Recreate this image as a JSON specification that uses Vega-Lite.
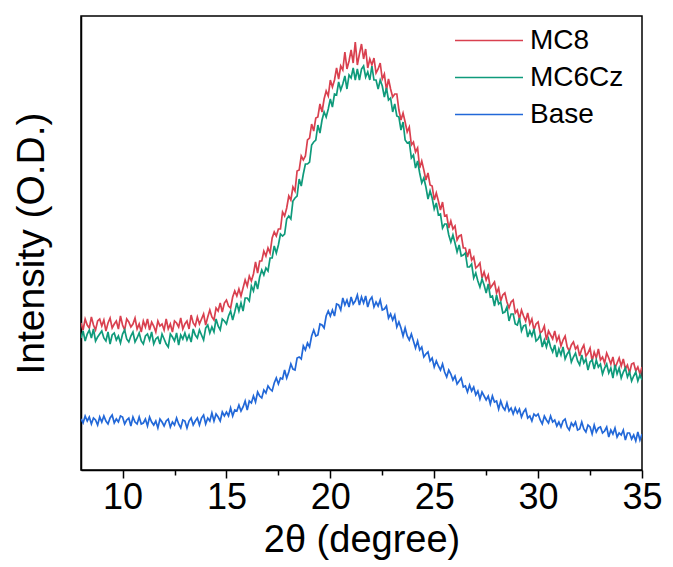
{
  "$schema": "https://vega.github.io/schema/vega-lite/v6.json",
  "width": 561,
  "height": 454,
  "autosize": "none",
  "padding": {"left": 81, "top": 16, "right": 31, "bottom": 97},
  "background": "white",
  "config": {
    "view": {"stroke": "black", "strokeWidth": 1.5},
    "font": "Liberation Sans"
  },
  "datasets": {"xrd": [
{"x":8.0,"MC8":147,"MC6Cz":132,"Base":51},{"x":8.1,"MC8":140,"MC6Cz":139,"Base":47},{"x":8.2,"MC8":151,"MC6Cz":129,"Base":54},{"x":8.3,"MC8":145,"MC6Cz":136,"Base":49},{"x":8.4,"MC8":142,"MC6Cz":140,"Base":53},{"x":8.5,"MC8":153,"MC6Cz":132,"Base":46},{"x":8.6,"MC8":145,"MC6Cz":141,"Base":52},{"x":8.7,"MC8":140,"MC6Cz":129,"Base":50},{"x":8.8,"MC8":149,"MC6Cz":133,"Base":45},{"x":8.9,"MC8":151,"MC6Cz":136,"Base":53},
{"x":9.0,"MC8":144,"MC6Cz":139,"Base":48},{"x":9.1,"MC8":150,"MC6Cz":132,"Base":54},{"x":9.2,"MC8":139,"MC6Cz":129,"Base":49},{"x":9.3,"MC8":147,"MC6Cz":138,"Base":46},{"x":9.4,"MC8":152,"MC6Cz":126,"Base":52},{"x":9.5,"MC8":142,"MC6Cz":135,"Base":55},{"x":9.6,"MC8":146,"MC6Cz":137,"Base":47},{"x":9.7,"MC8":149,"MC6Cz":130,"Base":51},{"x":9.8,"MC8":141,"MC6Cz":134,"Base":48},{"x":9.9,"MC8":154,"MC6Cz":127,"Base":54},
{"x":10.0,"MC8":145,"MC6Cz":136,"Base":53},{"x":10.1,"MC8":140,"MC6Cz":140,"Base":46},{"x":10.2,"MC8":151,"MC6Cz":131,"Base":50},{"x":10.3,"MC8":148,"MC6Cz":128,"Base":52},{"x":10.4,"MC8":143,"MC6Cz":134,"Base":44},{"x":10.5,"MC8":146,"MC6Cz":138,"Base":53},{"x":10.6,"MC8":152,"MC6Cz":128,"Base":48},{"x":10.7,"MC8":141,"MC6Cz":132,"Base":46},{"x":10.8,"MC8":146,"MC6Cz":137,"Base":53},{"x":10.9,"MC8":138,"MC6Cz":129,"Base":46},
{"x":11.0,"MC8":149,"MC6Cz":126,"Base":47},{"x":11.1,"MC8":143,"MC6Cz":134,"Base":51},{"x":11.2,"MC8":151,"MC6Cz":136,"Base":44},{"x":11.3,"MC8":140,"MC6Cz":130,"Base":53},{"x":11.4,"MC8":148,"MC6Cz":138,"Base":48},{"x":11.5,"MC8":144,"MC6Cz":126,"Base":45},{"x":11.6,"MC8":138,"MC6Cz":131,"Base":49},{"x":11.7,"MC8":149,"MC6Cz":133,"Base":42},{"x":11.8,"MC8":144,"MC6Cz":126,"Base":51},{"x":11.9,"MC8":146,"MC6Cz":136,"Base":48},
{"x":12.0,"MC8":140,"MC6Cz":131,"Base":44},{"x":12.1,"MC8":151,"MC6Cz":126,"Base":49},{"x":12.2,"MC8":141,"MC6Cz":123,"Base":51},{"x":12.3,"MC8":146,"MC6Cz":136,"Base":43},{"x":12.4,"MC8":138,"MC6Cz":133,"Base":48},{"x":12.5,"MC8":149,"MC6Cz":129,"Base":45},{"x":12.6,"MC8":147,"MC6Cz":137,"Base":52},{"x":12.7,"MC8":143,"MC6Cz":125,"Base":46},{"x":12.8,"MC8":152,"MC6Cz":135,"Base":42},{"x":12.9,"MC8":141,"MC6Cz":131,"Base":50},
{"x":13.0,"MC8":146,"MC6Cz":137,"Base":49},{"x":13.1,"MC8":149,"MC6Cz":130,"Base":42},{"x":13.2,"MC8":141,"MC6Cz":135,"Base":49},{"x":13.3,"MC8":155,"MC6Cz":128,"Base":52},{"x":13.4,"MC8":147,"MC6Cz":141,"Base":45},{"x":13.5,"MC8":144,"MC6Cz":135,"Base":49},{"x":13.6,"MC8":153,"MC6Cz":132,"Base":52},{"x":13.7,"MC8":146,"MC6Cz":140,"Base":45},{"x":13.8,"MC8":151,"MC6Cz":135,"Base":52},{"x":13.9,"MC8":156,"MC6Cz":130,"Base":55},
{"x":14.0,"MC8":145,"MC6Cz":142,"Base":46},{"x":14.1,"MC8":153,"MC6Cz":145,"Base":52},{"x":14.2,"MC8":160,"MC6Cz":137,"Base":49},{"x":14.3,"MC8":153,"MC6Cz":143,"Base":57},{"x":14.4,"MC8":150,"MC6Cz":138,"Base":49},{"x":14.5,"MC8":162,"MC6Cz":151,"Base":56},{"x":14.6,"MC8":159,"MC6Cz":144,"Base":53},{"x":14.7,"MC8":167,"MC6Cz":140,"Base":49},{"x":14.8,"MC8":158,"MC6Cz":151,"Base":58},{"x":14.9,"MC8":167,"MC6Cz":149,"Base":54},
{"x":15.0,"MC8":170,"MC6Cz":146,"Base":58},{"x":15.1,"MC8":164,"MC6Cz":154,"Base":54},{"x":15.2,"MC8":162,"MC6Cz":159,"Base":62},{"x":15.3,"MC8":173,"MC6Cz":150,"Base":54},{"x":15.4,"MC8":179,"MC6Cz":158,"Base":60},{"x":15.5,"MC8":174,"MC6Cz":167,"Base":59},{"x":15.6,"MC8":181,"MC6Cz":159,"Base":65},{"x":15.7,"MC8":174,"MC6Cz":167,"Base":59},{"x":15.8,"MC8":182,"MC6Cz":159,"Base":63},{"x":15.9,"MC8":190,"MC6Cz":172,"Base":69},
{"x":16.0,"MC8":184,"MC6Cz":172,"Base":60},{"x":16.1,"MC8":194,"MC6Cz":169,"Base":69},{"x":16.2,"MC8":189,"MC6Cz":184,"Base":67},{"x":16.3,"MC8":196,"MC6Cz":179,"Base":74},{"x":16.4,"MC8":208,"MC6Cz":189,"Base":68},{"x":16.5,"MC8":197,"MC6Cz":181,"Base":78},{"x":16.6,"MC8":209,"MC6Cz":193,"Base":74},{"x":16.7,"MC8":209,"MC6Cz":200,"Base":72},{"x":16.8,"MC8":219,"MC6Cz":195,"Base":80},{"x":16.9,"MC8":214,"MC6Cz":202,"Base":77},
{"x":17.0,"MC8":222,"MC6Cz":199,"Base":84},{"x":17.1,"MC8":217,"MC6Cz":212,"Base":81},{"x":17.2,"MC8":232,"MC6Cz":212,"Base":79},{"x":17.3,"MC8":238,"MC6Cz":224,"Base":87},{"x":17.4,"MC8":234,"MC6Cz":217,"Base":92},{"x":17.5,"MC8":241,"MC6Cz":225,"Base":86},{"x":17.6,"MC8":241,"MC6Cz":236,"Base":92},{"x":17.7,"MC8":258,"MC6Cz":234,"Base":91},{"x":17.8,"MC8":254,"MC6Cz":236,"Base":100},{"x":17.9,"MC8":262,"MC6Cz":251,"Base":92},
{"x":18.0,"MC8":274,"MC6Cz":254,"Base":98},{"x":18.1,"MC8":270,"MC6Cz":251,"Base":106},{"x":18.2,"MC8":283,"MC6Cz":269,"Base":101},{"x":18.3,"MC8":279,"MC6Cz":272,"Base":100},{"x":18.4,"MC8":299,"MC6Cz":274,"Base":112},{"x":18.5,"MC8":300,"MC6Cz":291,"Base":113},{"x":18.6,"MC8":314,"MC6Cz":284,"Base":111},{"x":18.7,"MC8":310,"MC6Cz":296,"Base":124},{"x":18.8,"MC8":314,"MC6Cz":306,"Base":120},{"x":18.9,"MC8":330,"MC6Cz":306,"Base":127},
{"x":19.0,"MC8":332,"MC6Cz":308,"Base":123},{"x":19.1,"MC8":346,"MC6Cz":325,"Base":134},{"x":19.2,"MC8":339,"MC6Cz":328,"Base":140},{"x":19.3,"MC8":352,"MC6Cz":330,"Base":134},{"x":19.4,"MC8":353,"MC6Cz":345,"Base":135},{"x":19.5,"MC8":366,"MC6Cz":337,"Base":146},{"x":19.6,"MC8":358,"MC6Cz":350,"Base":145},{"x":19.7,"MC8":371,"MC6Cz":358,"Base":142},{"x":19.8,"MC8":379,"MC6Cz":353,"Base":154},{"x":19.9,"MC8":374,"MC6Cz":361,"Base":159},
{"x":20.0,"MC8":390,"MC6Cz":371,"Base":154},{"x":20.1,"MC8":383,"MC6Cz":363,"Base":160},{"x":20.2,"MC8":390,"MC6Cz":376,"Base":154},{"x":20.3,"MC8":402,"MC6Cz":375,"Base":166},{"x":20.4,"MC8":391,"MC6Cz":388,"Base":165},{"x":20.5,"MC8":404,"MC6Cz":380,"Base":160},{"x":20.6,"MC8":400,"MC6Cz":386,"Base":172},{"x":20.7,"MC8":418,"MC6Cz":394,"Base":165},{"x":20.8,"MC8":401,"MC6Cz":381,"Base":170},{"x":20.9,"MC8":409,"MC6Cz":395,"Base":163},
{"x":21.0,"MC8":420,"MC6Cz":392,"Base":173},{"x":21.1,"MC8":407,"MC6Cz":402,"Base":166},{"x":21.2,"MC8":428,"MC6Cz":390,"Base":169},{"x":21.3,"MC8":405,"MC6Cz":401,"Base":175},{"x":21.4,"MC8":416,"MC6Cz":390,"Base":165},{"x":21.5,"MC8":426,"MC6Cz":401,"Base":173},{"x":21.6,"MC8":411,"MC6Cz":404,"Base":167},{"x":21.7,"MC8":421,"MC6Cz":393,"Base":174},{"x":21.8,"MC8":402,"MC6Cz":398,"Base":163},{"x":21.9,"MC8":411,"MC6Cz":390,"Base":170},
{"x":22.0,"MC8":405,"MC6Cz":404,"Base":173},{"x":22.1,"MC8":412,"MC6Cz":390,"Base":163},{"x":22.2,"MC8":397,"MC6Cz":390,"Base":168},{"x":22.3,"MC8":401,"MC6Cz":381,"Base":164},{"x":22.4,"MC8":407,"MC6Cz":390,"Base":170},{"x":22.5,"MC8":391,"MC6Cz":384,"Base":160},{"x":22.6,"MC8":396,"MC6Cz":373,"Base":161},{"x":22.7,"MC8":380,"MC6Cz":382,"Base":164},{"x":22.8,"MC8":391,"MC6Cz":370,"Base":152},{"x":22.9,"MC8":381,"MC6Cz":372,"Base":156},
{"x":23.0,"MC8":373,"MC6Cz":358,"Base":150},{"x":23.1,"MC8":376,"MC6Cz":366,"Base":155},{"x":23.2,"MC8":376,"MC6Cz":354,"Base":143},{"x":23.3,"MC8":360,"MC6Cz":353,"Base":148},{"x":23.4,"MC8":350,"MC6Cz":340,"Base":142},{"x":23.5,"MC8":357,"MC6Cz":348,"Base":134},{"x":23.6,"MC8":348,"MC6Cz":330,"Base":142},{"x":23.7,"MC8":338,"MC6Cz":327,"Base":134},{"x":23.8,"MC8":343,"MC6Cz":328,"Base":130},{"x":23.9,"MC8":325,"MC6Cz":312,"Base":136},
{"x":24.0,"MC8":328,"MC6Cz":315,"Base":129},{"x":24.1,"MC8":318,"MC6Cz":302,"Base":122},{"x":24.2,"MC8":322,"MC6Cz":309,"Base":129},{"x":24.3,"MC8":302,"MC6Cz":297,"Base":120},{"x":24.4,"MC8":309,"MC6Cz":287,"Base":123},{"x":24.5,"MC8":300,"MC6Cz":292,"Base":113},{"x":24.6,"MC8":290,"MC6Cz":283,"Base":116},{"x":24.7,"MC8":297,"MC6Cz":271,"Base":118},{"x":24.8,"MC8":285,"MC6Cz":279,"Base":109},{"x":24.9,"MC8":284,"MC6Cz":272,"Base":112},
{"x":25.0,"MC8":270,"MC6Cz":261,"Base":103},{"x":25.1,"MC8":277,"MC6Cz":267,"Base":109},{"x":25.2,"MC8":269,"MC6Cz":255,"Base":104},{"x":25.3,"MC8":260,"MC6Cz":256,"Base":100},{"x":25.4,"MC8":268,"MC6Cz":242,"Base":106},{"x":25.5,"MC8":254,"MC6Cz":246,"Base":98},{"x":25.6,"MC8":255,"MC6Cz":246,"Base":93},{"x":25.7,"MC8":242,"MC6Cz":235,"Base":100},{"x":25.8,"MC8":249,"MC6Cz":228,"Base":96},{"x":25.9,"MC8":241,"MC6Cz":235,"Base":90},
{"x":26.0,"MC8":244,"MC6Cz":227,"Base":94},{"x":26.1,"MC8":230,"MC6Cz":218,"Base":86},{"x":26.2,"MC8":234,"MC6Cz":225,"Base":89},{"x":26.3,"MC8":235,"MC6Cz":214,"Base":92},{"x":26.4,"MC8":222,"MC6Cz":215,"Base":83},{"x":26.5,"MC8":222,"MC6Cz":217,"Base":84},{"x":26.6,"MC8":213,"MC6Cz":203,"Base":78},{"x":26.7,"MC8":221,"MC6Cz":203,"Base":85},{"x":26.8,"MC8":210,"MC6Cz":206,"Base":79},{"x":26.9,"MC8":213,"MC6Cz":192,"Base":83},
{"x":27.0,"MC8":202,"MC6Cz":197,"Base":75},{"x":27.1,"MC8":204,"MC6Cz":189,"Base":79},{"x":27.2,"MC8":207,"MC6Cz":183,"Base":71},{"x":27.3,"MC8":192,"MC6Cz":191,"Base":78},{"x":27.4,"MC8":198,"MC6Cz":185,"Base":74},{"x":27.5,"MC8":190,"MC6Cz":177,"Base":70},{"x":27.6,"MC8":195,"MC6Cz":186,"Base":74},{"x":27.7,"MC8":182,"MC6Cz":173,"Base":66},{"x":27.8,"MC8":185,"MC6Cz":174,"Base":74},{"x":27.9,"MC8":188,"MC6Cz":164,"Base":68},
{"x":28.0,"MC8":177,"MC6Cz":175,"Base":69},{"x":28.1,"MC8":182,"MC6Cz":166,"Base":61},{"x":28.2,"MC8":169,"MC6Cz":168,"Base":69},{"x":28.3,"MC8":175,"MC6Cz":157,"Base":63},{"x":28.4,"MC8":177,"MC6Cz":158,"Base":60},{"x":28.5,"MC8":168,"MC6Cz":163,"Base":67},{"x":28.6,"MC8":162,"MC6Cz":149,"Base":59},{"x":28.7,"MC8":168,"MC6Cz":156,"Base":62},{"x":28.8,"MC8":170,"MC6Cz":156,"Base":56},{"x":28.9,"MC8":157,"MC6Cz":146,"Base":62},
{"x":29.0,"MC8":160,"MC6Cz":145,"Base":57},{"x":29.1,"MC8":151,"MC6Cz":152,"Base":61},{"x":29.2,"MC8":160,"MC6Cz":139,"Base":53},{"x":29.3,"MC8":154,"MC6Cz":144,"Base":58},{"x":29.4,"MC8":149,"MC6Cz":145,"Base":61},{"x":29.5,"MC8":157,"MC6Cz":133,"Base":52},{"x":29.6,"MC8":146,"MC6Cz":139,"Base":54},{"x":29.7,"MC8":151,"MC6Cz":134,"Base":49},{"x":29.8,"MC8":140,"MC6Cz":141,"Base":56},{"x":29.9,"MC8":146,"MC6Cz":129,"Base":54},
{"x":30.0,"MC8":148,"MC6Cz":131,"Base":56},{"x":30.1,"MC8":137,"MC6Cz":135,"Base":50},{"x":30.2,"MC8":139,"MC6Cz":123,"Base":46},{"x":30.3,"MC8":144,"MC6Cz":130,"Base":54},{"x":30.4,"MC8":130,"MC6Cz":123,"Base":50},{"x":30.5,"MC8":139,"MC6Cz":131,"Base":47},{"x":30.6,"MC8":135,"MC6Cz":123,"Base":54},{"x":30.7,"MC8":131,"MC6Cz":118,"Base":48},{"x":30.8,"MC8":139,"MC6Cz":125,"Base":50},{"x":30.9,"MC8":129,"MC6Cz":113,"Base":44},
{"x":31.0,"MC8":134,"MC6Cz":121,"Base":48},{"x":31.1,"MC8":124,"MC6Cz":115,"Base":43},{"x":31.2,"MC8":130,"MC6Cz":123,"Base":49},{"x":31.3,"MC8":134,"MC6Cz":111,"Base":51},{"x":31.4,"MC8":123,"MC6Cz":116,"Base":43},{"x":31.5,"MC8":119,"MC6Cz":119,"Base":40},{"x":31.6,"MC8":125,"MC6Cz":108,"Base":47},{"x":31.7,"MC8":128,"MC6Cz":113,"Base":44},{"x":31.8,"MC8":121,"MC6Cz":117,"Base":48},{"x":31.9,"MC8":124,"MC6Cz":109,"Base":40},
{"x":32.0,"MC8":114,"MC6Cz":105,"Base":41},{"x":32.1,"MC8":121,"MC6Cz":115,"Base":48},{"x":32.2,"MC8":125,"MC6Cz":107,"Base":41},{"x":32.3,"MC8":114,"MC6Cz":111,"Base":38},{"x":32.4,"MC8":117,"MC6Cz":100,"Base":45},{"x":32.5,"MC8":122,"MC6Cz":108,"Base":43},{"x":32.6,"MC8":109,"MC6Cz":110,"Base":36},{"x":32.7,"MC8":118,"MC6Cz":101,"Base":45},{"x":32.8,"MC8":112,"MC6Cz":110,"Base":38},{"x":32.9,"MC8":121,"MC6Cz":103,"Base":42},
{"x":33.0,"MC8":110,"MC6Cz":106,"Base":43},{"x":33.1,"MC8":113,"MC6Cz":96,"Base":37},{"x":33.2,"MC8":107,"MC6Cz":102,"Base":39},{"x":33.3,"MC8":117,"MC6Cz":106,"Base":43},{"x":33.4,"MC8":112,"MC6Cz":97,"Base":33},{"x":33.5,"MC8":106,"MC6Cz":102,"Base":40},{"x":33.6,"MC8":113,"MC6Cz":92,"Base":36},{"x":33.7,"MC8":102,"MC6Cz":105,"Base":42},{"x":33.8,"MC8":107,"MC6Cz":96,"Base":33},{"x":33.9,"MC8":112,"MC6Cz":102,"Base":37},
{"x":34.0,"MC8":104,"MC6Cz":92,"Base":35},{"x":34.1,"MC8":111,"MC6Cz":98,"Base":40},{"x":34.2,"MC8":101,"MC6Cz":102,"Base":30},{"x":34.3,"MC8":105,"MC6Cz":93,"Base":37},{"x":34.4,"MC8":97,"MC6Cz":98,"Base":37},{"x":34.5,"MC8":106,"MC6Cz":89,"Base":31},{"x":34.6,"MC8":107,"MC6Cz":94,"Base":35},{"x":34.7,"MC8":99,"MC6Cz":98,"Base":29},{"x":34.8,"MC8":103,"MC6Cz":89,"Base":38},{"x":34.9,"MC8":96,"MC6Cz":95,"Base":30},
{"x":35.0,"MC8":103,"MC6Cz":90,"Base":36}
  ]},
  "data": {"name": "xrd"},
  "transform": [{"fold": ["MC8", "MC6Cz", "Base"], "as": ["sample", "intensity"]}],
  "mark": {"type": "line", "strokeWidth": 1.7, "clip": true},
  "encoding": {
    "x": {
      "field": "x", "type": "quantitative",
      "scale": {"domain": [8, 35], "nice": false, "zero": false},
      "axis": {
        "title": "2θ (degree)",
        "values": [10, 12.5, 15, 17.5, 20, 22.5, 25, 27.5, 30, 32.5, 35],
        "labelExpr": "datum.value % 5 === 0 ? datum.label : ''",
        "tickSize": {"condition": {"test": "datum.value % 5 === 0", "value": 8}, "value": 5},
        "tickColor": "black", "tickWidth": 1.5,
        "domainColor": "black", "domainWidth": 1.5,
        "labelFontSize": 36, "labelColor": "black", "labelPadding": 2,
        "labelFlush": false, "labelOverlap": false,
        "titleFontSize": 38, "titleFontWeight": "normal", "titleColor": "black", "titlePadding": 6,
        "grid": false
      }
    },
    "y": {
      "field": "intensity", "type": "quantitative",
      "scale": {"domain": [0, 454], "nice": false, "zero": false},
      "axis": {
        "title": "Intensity (O.D.)",
        "labels": false, "ticks": false, "grid": false,
        "domainColor": "black", "domainWidth": 1.5,
        "titleFontSize": 39, "titleFontWeight": "normal", "titleColor": "black", "titlePadding": 30
      }
    },
    "color": {
      "field": "sample", "type": "nominal",
      "scale": {"domain": ["MC8", "MC6Cz", "Base"], "range": ["#d9404f", "#0f9a7b", "#2268d8"]},
      "legend": {
        "title": null, "orient": "none", "legendX": 373, "legendY": 6,
        "symbolType": "stroke", "symbolSize": 4624, "symbolStrokeWidth": 1.3,
        "labelFontSize": 28, "labelColor": "black", "labelOffset": 6,
        "clipHeight": 37, "rowPadding": 0
      }
    },
    "order": {"field": "x", "type": "quantitative"}
  }
}
